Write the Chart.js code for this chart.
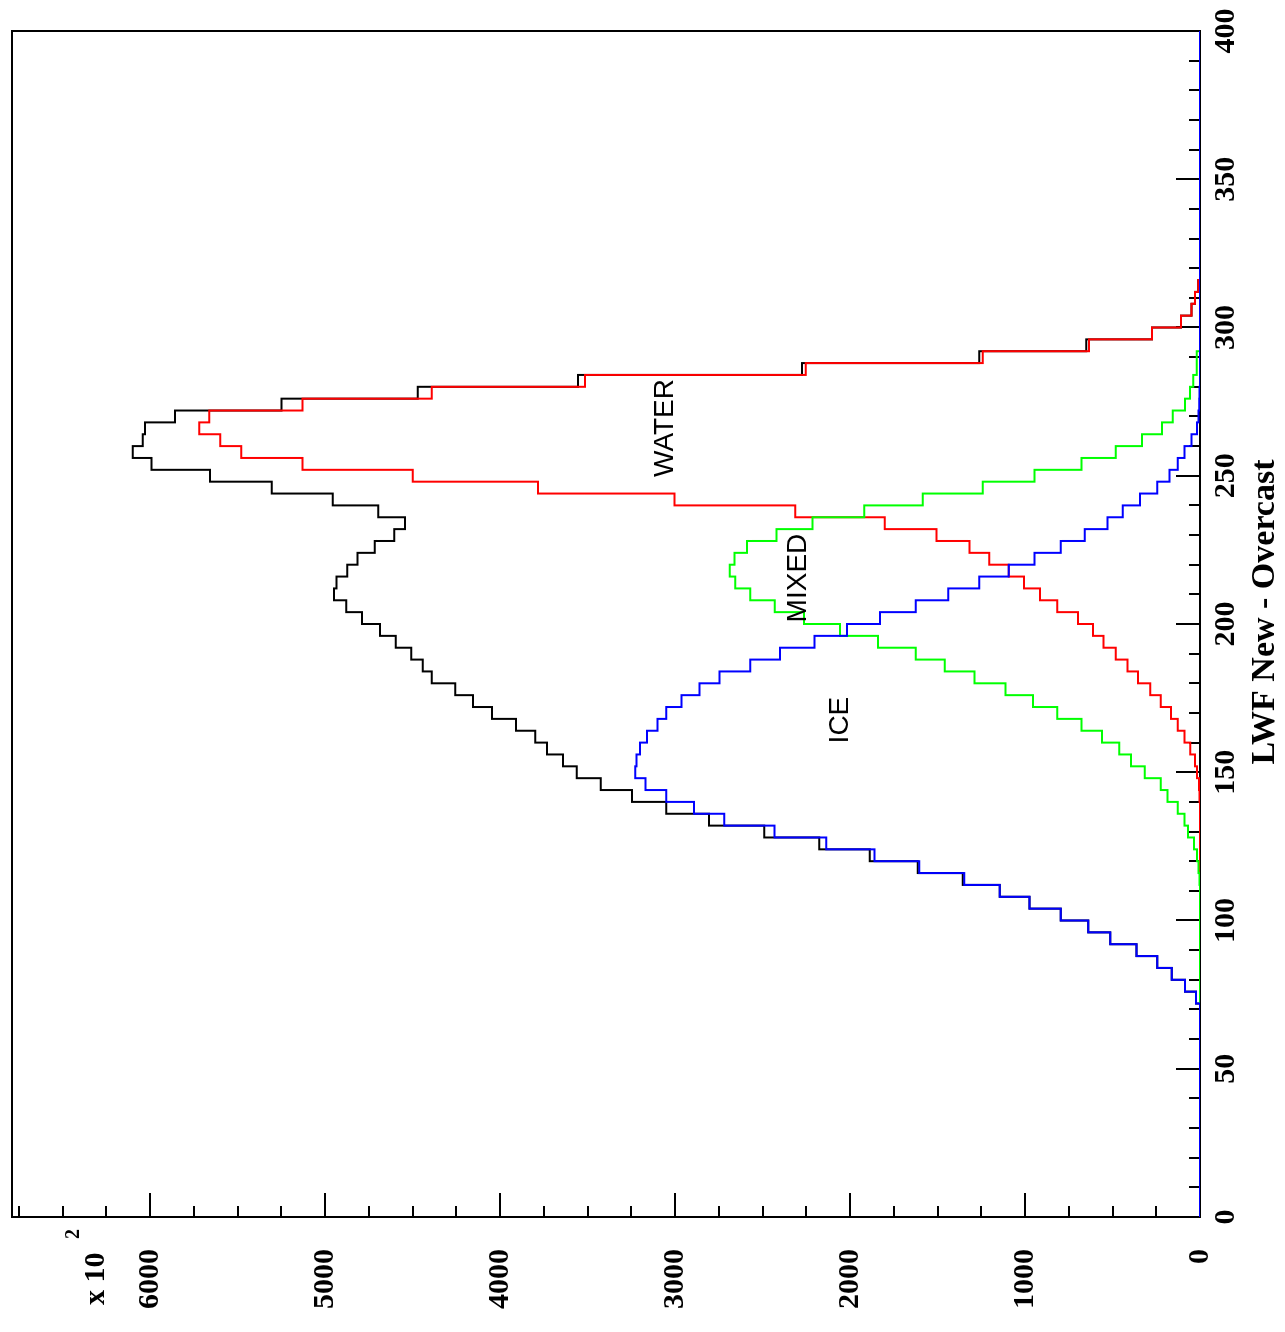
<!DOCTYPE html>
<html>
<head>
<meta charset="utf-8">
<script src="https://cdn.jsdelivr.net/npm/chart.js@4.4.1/dist/chart.umd.min.js"></script>
<style>
  html, body { margin: 0; padding: 0; background: #fff; overflow: hidden; }
  /* the plot is drawn upright and turned a quarter turn to the left */
  #turn {
    position: absolute; left: 0; top: 0;
    width: 1332px; height: 1285px;
    transform-origin: 0 0;
    transform: translate(0, 1332px) rotate(-90deg);
  }
</style>
</head>
<body>
<div id="turn"><canvas id="lwfChart" width="1332" height="1285"></canvas></div>
<script>
// Histogram bins: 4 units wide, 0 - 400 (LWF New - Overcast)
const binWidth = 4;
const xMin = 0;
const xMax = 400;
const yMax = 6790; // counts are in units of 10^2

const xTickLabels = [0, 50, 100, 150, 200, 250, 300, 350, 400];
const yTickLabels = [0, 1000, 2000, 3000, 4000, 5000, 6000];
const regionNames = ["ICE", "MIXED", "WATER"];

// first bin (lower edge) of each series, then its counts per bin
const iceStart = 72;
const iceCounts = [0, 23, 86, 162, 245, 363, 513, 639, 796, 974, 1144, 1348, 1605, 1860,
  2136, 2432, 2719, 2892, 3050, 3169, 3228, 3220, 3200, 3161, 3101, 3050, 2963, 2861,
  2747, 2570, 2401, 2203, 2018, 1829, 1624, 1439, 1261, 1093, 946, 796, 659, 529, 442,
  343, 245, 174, 127, 88, 48, 17, 8, 5, 3, 0];

const mixedStart = 116;
const mixedCounts = [3, 8, 17, 35, 68, 88, 127, 186, 225, 316, 395, 462, 560, 678, 816,
  955, 1112, 1289, 1459, 1625, 1841, 2057, 2263, 2431, 2570, 2656, 2688, 2660, 2589,
  2420, 2215, 1919, 1585, 1242, 946, 678, 482, 332, 217, 156, 86, 57, 38, 19, 19, 0];

const waterStart = 144;
const waterCounts = [3, 6, 17, 29, 56, 88, 127, 166, 225, 284, 355, 414, 482, 552, 612,
  698, 816, 915, 1006, 1093, 1205, 1317, 1506, 1802, 2313, 3003, 3783, 4500, 5130, 5480,
  5600, 5720, 5662, 5130, 4391, 3515, 2254, 1242, 634, 275, 108, 48, 29, 10, 0];

const totalStart = 72;
const totalCounts = [0, 23, 86, 162, 245, 363, 513, 639, 796, 974, 1144, 1356, 1613, 1888,
  2176, 2491, 2806, 3050, 3247, 3425, 3562, 3641, 3732, 3799, 3909, 4047, 4155, 4257,
  4391, 4443, 4508, 4596, 4687, 4790, 4880, 4950, 4935, 4874, 4815, 4717, 4605, 4544,
  4696, 4957, 5306, 5658, 5992, 6100, 6043, 6030, 5858, 5249, 4471, 3555, 2275, 1262,
  650, 275, 108, 48, 29, 10, 0];

// turn a list of bin counts into step points over the whole axis
function histPoints(start, counts) {
  const pts = [];
  for (let edge = xMin; edge < xMax; edge += binWidth) {
    const i = (edge - start) / binWidth;
    pts.push({ x: edge, y: i >= 0 && i < counts.length ? counts[i] : 0 });
  }
  pts.push({ x: xMax, y: 0 });
  return pts;
}

function histDataset(label, color, start, counts) {
  return {
    label: label,
    data: histPoints(start, counts),
    borderColor: color,
    borderWidth: 2,
    stepped: "after",
    pointRadius: 0,
    fill: false,
  };
}

const serif = "'Liberation Serif', 'Times New Roman', serif";

// frame, inward ticks and the text inside / beside the plot
const decorations = {
  id: "decorations",
  beforeDatasetsDraw(chart) {
    const { ctx, chartArea: a, scales } = chart;
    ctx.save();
    ctx.strokeStyle = "#000";
    ctx.lineWidth = 2;
    ctx.strokeRect(a.left, a.top, a.right - a.left, a.bottom - a.top);
    ctx.beginPath();
    for (let v = xMin; v <= xMax; v += 10) {
      const px = Math.round(scales.x.getPixelForValue(v));
      const len = v % 50 === 0 ? 24 : 11;
      ctx.moveTo(px, a.bottom);
      ctx.lineTo(px, a.bottom - len);
    }
    for (let v = 0; v <= yMax; v += 250) {
      const py = Math.round(scales.y.getPixelForValue(v));
      const len = v % 1000 === 0 ? 24 : 11;
      ctx.moveTo(a.left, py);
      ctx.lineTo(a.left + len, py);
    }
    ctx.stroke();
    ctx.restore();
  },
  afterDatasetsDraw(chart) {
    const { ctx, chartArea: a, scales } = chart;
    const x = scales.x, y = scales.y;
    ctx.save();
    ctx.fillStyle = "#000";
    ctx.textAlign = "center";
    ctx.textBaseline = "middle";

    ctx.font = "28px 'Liberation Sans', Arial, sans-serif";
    ctx.fillText(regionNames[0], x.getPixelForValue(167.6), y.getPixelForValue(2058));
    ctx.fillText(regionNames[1], x.getPixelForValue(215.5), y.getPixelForValue(2298));
    ctx.fillText(regionNames[2], x.getPixelForValue(266.1), y.getPixelForValue(3058));

    // axis title
    ctx.font = "bold 34px " + serif;
    ctx.fillText("LWF New - Overcast", 720, a.bottom + 65);

    // exponent of the count axis
    ctx.textAlign = "left";
    ctx.font = "bold 30px " + serif;
    ctx.fillText("x 10", 27, 96);
    ctx.font = "bold 20px " + serif;
    ctx.fillText("2", 93, 74);
    ctx.restore();
  },
};

const chart = new Chart(document.getElementById("lwfChart"), {
  type: "line",
  data: {
    datasets: [
      histDataset("ICE", "#0000ff", iceStart, iceCounts),
      histDataset("MIXED", "#00ff00", mixedStart, mixedCounts),
      histDataset("WATER", "#ff0000", waterStart, waterCounts),
      histDataset("Total", "#000000", totalStart, totalCounts),
    ],
  },
  options: {
    responsive: false,
    animation: false,
    devicePixelRatio: 1,
    layout: { padding: { top: 12, right: 31, left: 0, bottom: 0 } },
    plugins: {
      legend: { display: false },
      tooltip: { enabled: false },
    },
    scales: {
      x: {
        type: "linear",
        min: xMin,
        max: xMax,
        grid: { display: false, drawTicks: false },
        border: { display: false },
        afterFit(scale) {
          scale.height = 85;
          scale.paddingLeft = 0;
          scale.paddingRight = 0;
        },
        afterBuildTicks(scale) {
          scale.ticks = xTickLabels.map((v) => ({ value: v }));
        },
        ticks: {
          autoSkip: false,
          maxRotation: 0,
          padding: 8,
          color: "#000",
          font: { family: serif, size: 30, weight: "bold" },
          callback: (v) => String(v),
        },
      },
      y: {
        type: "linear",
        min: 0,
        max: yMax,
        grid: { display: false, drawTicks: false },
        border: { display: false },
        afterFit(scale) {
          scale.width = 115;
          scale.paddingTop = 0;
          scale.paddingBottom = 0;
        },
        afterBuildTicks(scale) {
          scale.ticks = yTickLabels.map((v) => ({ value: v }));
        },
        ticks: {
          autoSkip: false,
          padding: 32,
          color: "#000",
          font: { family: serif, size: 30, weight: "bold" },
          callback: (v) => String(v),
        },
      },
    },
  },
  plugins: [decorations],
});
</script>
</body>
</html>
